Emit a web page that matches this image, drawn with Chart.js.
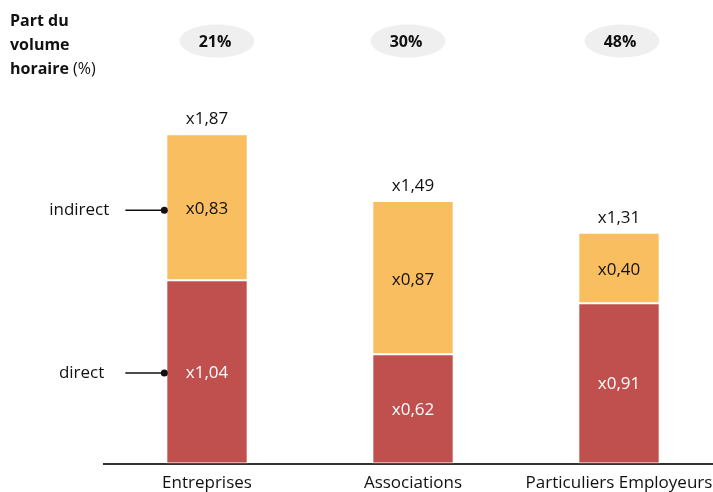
<!DOCTYPE html>
<html>
<head>
<meta charset="utf-8">
<script src="https://cdn.jsdelivr.net/npm/chart.js@4/dist/chart.umd.min.js"></script>
<style>
  html, body { margin: 0; padding: 0; background: #fff; overflow: hidden; }
  #wrap { width: 730px; height: 492px; overflow: hidden; }
</style>
</head>
<body>
<div id="wrap"><canvas id="chart" width="730" height="502"></canvas></div>
<script>
const categories = ['Entreprises', 'Associations', 'Particuliers Employeurs'];
const directValues = [1.04, 0.62, 0.91];
const indirectValues = [0.83, 0.87, 0.40];
const shareLabels = ['21%', '30%', '48%'];
const shareOffsets = [10, -5, 3]; // décalage des bulles par rapport au centre des barres

const FONT = '"Open Sans", sans-serif';

function fmt(v) {
    return 'x' + v.toFixed(2).replace('.', ',');
}

// Dessine les annotations (bulles, titres, étiquettes)
const overlay = {
    id: 'overlay',
    afterDatasetsDraw(chart) {
        const ctx = chart.ctx;
        const metaDirect = chart.getDatasetMeta(0);
        const metaIndirect = chart.getDatasetMeta(1);
        ctx.save();

        // Titre gauche
        ctx.fillStyle = '#111';
        ctx.textAlign = 'left';
        ctx.textBaseline = 'middle';
        ctx.font = 'bold 16px ' + FONT;
        ctx.fillText('Part du', 10, 21);
        ctx.fillText('volume', 10, 45);
        const w = ctx.measureText('horaire ').width;
        ctx.fillText('horaire', 10, 69);
        ctx.font = '16px ' + FONT;
        ctx.fillText('(%)', 10 + w, 69);

        // Bulles de pourcentage
        metaDirect.data.forEach((bar, i) => {
            const cx = bar.x + shareOffsets[i];
            ctx.fillStyle = '#EEEFEE';
            ctx.beginPath();
            ctx.ellipse(cx, 41, 37.5, 16.5, 0, 0, Math.PI * 2);
            ctx.fill();
            ctx.fillStyle = '#111';
            ctx.font = 'bold 16px ' + FONT;
            ctx.textAlign = 'center';
            ctx.fillText(shareLabels[i], cx - 2, 42);
        });

        // Etiquettes des segments
        ctx.font = '17px ' + FONT;
        ctx.textAlign = 'center';
        metaDirect.data.forEach((bar, i) => {
            ctx.fillStyle = '#fff';
            ctx.fillText(fmt(directValues[i]), bar.x, (bar.y + bar.base) / 2 + 1);
        });
        metaIndirect.data.forEach((bar, i) => {
            ctx.fillStyle = '#111';
            ctx.fillText(fmt(indirectValues[i]), bar.x, (bar.y + bar.base) / 2 + 2);
            const total = directValues[i] + indirectValues[i];
            ctx.fillText(fmt(total), bar.x, bar.y - 15);
        });

        // Légende "indirect" / "direct"
        const first = metaDirect.data[0];
        const firstInd = metaIndirect.data[0];
        const edge = first.x - first.width / 2;
        const legend = [
            ['indirect', (firstInd.y + firstInd.base) / 2 + 3, 57],
            ['direct', (first.y + first.base) / 2 + 1, 62]
        ];
        legend.forEach(([txt, y, gap]) => {
            ctx.strokeStyle = '#111';
            ctx.lineWidth = 1.5;
            ctx.beginPath();
            ctx.moveTo(edge - 41, y);
            ctx.lineTo(edge - 2, y);
            ctx.stroke();
            ctx.fillStyle = '#111';
            ctx.beginPath();
            ctx.arc(edge - 2, y, 3.5, 0, Math.PI * 2);
            ctx.fill();
            ctx.textAlign = 'right';
            ctx.fillText(txt, edge - gap, y);
        });

        ctx.restore();
    }
};

new Chart(document.getElementById('chart'), {
    type: 'bar',
    data: {
        labels: categories,
        datasets: [
            { label: 'direct', data: directValues, backgroundColor: '#C0504D', borderColor: '#FFFFFF', borderWidth: 1, borderSkipped: false },
            { label: 'indirect', data: indirectValues, backgroundColor: '#F9BE60', borderColor: '#FFFFFF', borderWidth: 1, borderSkipped: false }
        ]
    },
    options: {
        responsive: false,
        animation: false,
        layout: { padding: { left: 104, right: 8, top: 76, bottom: 0 } },
        plugins: { legend: { display: false }, tooltip: { enabled: false } },
        datasets: { bar: { categoryPercentage: 1, barPercentage: 0.395 } },
        scales: {
            x: {
                stacked: true,
                grid: { display: false, drawTicks: false },
                border: { display: true, color: '#333', width: 2 },
                ticks: { color: '#111', font: { family: FONT, size: 17 }, padding: 9, maxRotation: 0, autoSkip: false }
            },
            y: {
                stacked: true,
                display: false,
                min: 0,
                max: 2.2
            }
        }
    },
    plugins: [overlay]
});
</script>
</body>
</html>
